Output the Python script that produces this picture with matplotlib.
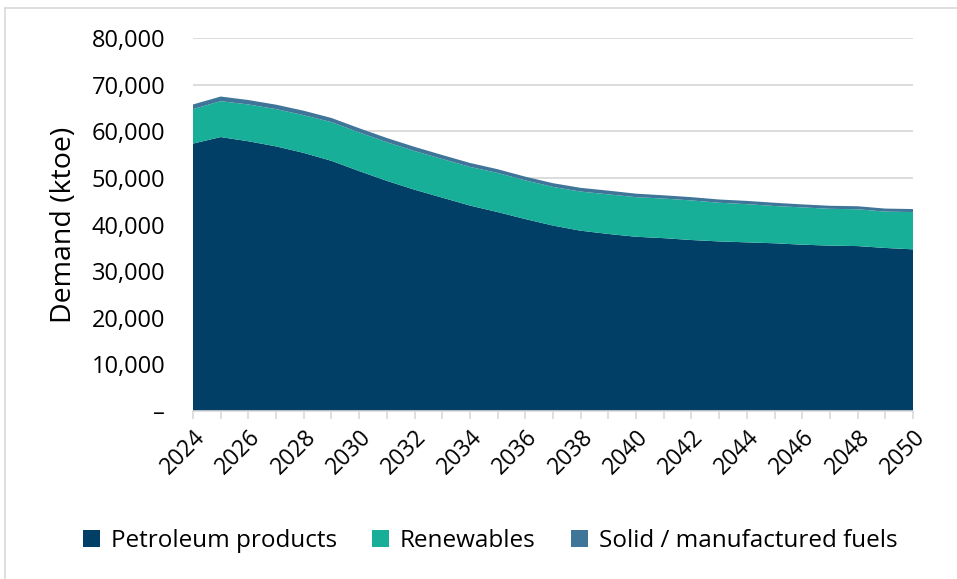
import matplotlib.pyplot as plt
import matplotlib as mpl
import numpy as np
from matplotlib.ticker import FuncFormatter, MultipleLocator
from matplotlib.patches import Patch
from matplotlib.lines import Line2D

# demand by fuel, ktoe
years = list(range(2024, 2051))
petroleum = [57400, 58800, 57900, 56800, 55400, 53700, 51500, 49400, 47500,
             45800, 44100, 42700, 41200, 39800, 38700, 38000, 37400, 37100,
             36700, 36400, 36200, 36000, 35700, 35500, 35400, 35000, 34700]
renewables = [7400, 7700, 7900, 8000, 8100, 8300, 8300, 8300, 8300,
              8300, 8300, 8400, 8300, 8300, 8400, 8500, 8500, 8500,
              8500, 8300, 8200, 8000, 8000, 7900, 7900, 7800, 8000]
solid_fuels = [1000, 1000, 950, 950, 950, 900, 900, 900, 900,
               850, 850, 800, 800, 800, 800, 800, 750, 700,
               700, 700, 700, 700, 650, 650, 650, 650, 650]

series_names = ['Petroleum products', 'Renewables', 'Solid / manufactured fuels']
colors = ['#023f66', '#17af98', '#3f7599']
grid_grey = '#d9d9d9'

mpl.rcParams['font.family'] = ['Open Sans', 'DejaVu Sans']
plt.rcParams['font.size'] = 16


def main():
    fig = plt.figure(figsize=(9.57, 5.79), dpi=100)
    ax = fig.add_axes([193/957, 1 - 411/579, 720/957, (411 - 38.3)/579])

    ax.stackplot(years, petroleum, renewables, solid_fuels,
                 colors=colors, linewidth=0, zorder=2)

    ax.set_xlim(2024, 2050)
    ax.set_ylim(0, 80000)

    # y axis: thousands separators, dash for zero
    ax.yaxis.set_major_locator(MultipleLocator(10000))
    ax.yaxis.set_major_formatter(FuncFormatter(
        lambda v, p: '–' if v == 0 else f'{int(v):,}'))
    ax.tick_params(axis='y', length=0, pad=20, labelsize=17)
    ax.grid(axis='y', color=grid_grey, linewidth=1.3, zorder=0)
    ax.set_axisbelow(True)

    # x axis: tick every year, label every second year
    ax.set_xticks(years, minor=True)
    ax.set_xticks(years[::2])
    ax.tick_params(axis='x', which='both', length=6, width=1.2,
                   color=grid_grey, pad=4, labelsize=16.5)
    for lbl in ax.get_xticklabels():
        lbl.set_rotation(45)
        lbl.set_ha('right')
        lbl.set_rotation_mode('anchor')

    for side in ['left', 'right', 'top']:
        ax.spines[side].set_visible(False)
    ax.spines['bottom'].set_color(grid_grey)
    ax.spines['bottom'].set_linewidth(1.2)

    ax.set_ylabel('Demand (ktoe)', fontsize=20.5)
    ax.yaxis.set_label_coords((78 - 193)/720, 0.5)

    handles = [Patch(facecolor=c, edgecolor='none') for c in colors]
    fig.legend(handles, series_names, loc='center', ncol=3,
               bbox_to_anchor=(0.512, 1 - 541/579), frameon=False,
               fontsize=17.5, handlelength=0.7, handleheight=0.7,
               handletextpad=0.45, columnspacing=1.45)

    # light frame round the chart
    fig.add_artist(Line2D([5/957, 5/957], [0, 1 - 8/579],
                          transform=fig.transFigure, color=grid_grey, lw=1.2))
    fig.add_artist(Line2D([5/957, 1], [1 - 8/579, 1 - 8/579],
                          transform=fig.transFigure, color=grid_grey, lw=1.2))

    fig.savefig('out.png', dpi=100)


if __name__ == '__main__':
    main()
